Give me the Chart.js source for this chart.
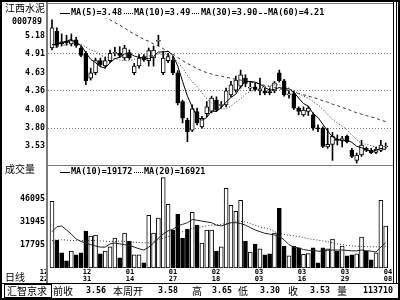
<!DOCTYPE html>
<html><head><meta charset="utf-8">
<script src="https://cdn.jsdelivr.net/npm/chart.js@4.4.0/dist/chart.umd.min.js"></script>
<style>
html,body{margin:0;padding:0;background:#fff;}
#wrap{position:relative;width:400px;height:300px;overflow:hidden;background:#fff;}
canvas{position:absolute;left:0;top:0;}
</style></head><body>
<div id="wrap"><canvas id="pc" width="400" height="300"></canvas><canvas id="vc" width="400" height="300"></canvas></div>
<script>
// ---------- data ----------
const stockName = '江西水泥';
const stockCode = '000789';
const openP  = [5.00,5.25,5.09,5.10,5.06,5.12,5.00,4.92,4.55,4.63,4.81,4.73,4.81,4.92,4.92,4.85,4.93,4.63,4.73,4.87,4.81,4.85,5.10,4.63,4.81,4.82,4.63,4.20,3.92,3.77,4.05,3.82,4.02,4.05,4.22,4.14,4.15,4.30,4.37,4.43,4.55,4.40,4.42,4.36,4.36,4.35,4.36,4.63,4.51,4.30,4.32,4.10,4.00,4.05,4.00,3.80,3.80,3.52,3.56,3.63,3.63,3.68,3.47,3.32,3.40,3.50,3.47,3.44,3.47,3.52];
const highP  = [5.42,5.30,5.21,5.19,5.21,5.16,5.03,4.95,4.70,4.85,4.85,4.86,4.97,5.01,5.02,5.04,4.97,4.77,4.90,4.90,5.00,5.03,5.19,4.95,4.92,4.87,4.66,4.22,3.95,4.15,4.10,3.98,4.20,4.28,4.27,4.20,4.40,4.50,4.58,4.67,4.60,4.50,4.48,4.55,4.40,4.40,4.50,4.67,4.53,4.36,4.35,4.12,4.12,4.13,4.03,3.85,3.82,3.80,3.74,3.70,3.68,3.70,3.50,3.43,3.62,3.52,3.50,3.52,3.62,3.58];
const lowP   = [4.97,5.01,5.03,5.04,5.03,5.01,4.87,4.45,4.52,4.60,4.72,4.70,4.78,4.88,4.86,4.82,4.83,4.60,4.70,4.80,4.73,4.73,5.03,4.60,4.78,4.60,4.15,3.88,3.60,3.75,3.85,3.80,3.97,4.03,4.05,4.10,4.12,4.27,4.34,4.40,4.42,4.36,4.36,4.30,4.30,4.30,4.33,4.49,4.28,4.25,4.08,4.00,3.98,3.99,3.77,3.75,3.51,3.50,3.32,3.55,3.52,3.58,3.36,3.28,3.38,3.45,3.42,3.42,3.45,3.50];
const closeP = [5.30,5.04,5.06,5.08,5.11,5.04,4.89,4.51,4.63,4.81,4.75,4.81,4.92,4.93,4.89,5.00,4.85,4.73,4.85,4.82,4.96,4.97,5.11,4.85,4.87,4.63,4.18,3.95,3.75,4.09,3.88,3.95,4.12,4.25,4.07,4.15,4.36,4.45,4.52,4.60,4.47,4.41,4.38,4.39,4.33,4.33,4.48,4.51,4.30,4.31,4.10,4.05,4.07,4.10,3.80,3.79,3.53,3.56,3.68,3.62,3.64,3.60,3.38,3.40,3.55,3.47,3.43,3.49,3.55,3.53];
const volume = [44600,20800,12900,8000,14100,11700,12900,26300,23300,23900,12300,14100,16600,22100,9900,25100,20200,11700,11700,6800,36100,25100,34300,59300,42800,26900,36700,22100,27600,37900,30000,19000,26900,26900,14100,16600,52600,42200,38500,45200,20200,13500,18400,15400,11700,12300,25100,40400,17200,11100,17200,16000,12000,12500,16000,6800,16000,15400,21500,14100,17200,11100,11700,12300,22700,14100,8600,12900,45200,29400];
const ma5  = [5.05,5.05,5.08,5.10,5.13,5.07,5.04,4.93,4.83,4.78,4.72,4.70,4.78,4.84,4.86,4.91,4.92,4.88,4.86,4.85,4.84,4.87,4.94,4.94,4.95,4.89,4.73,4.50,4.28,4.12,3.97,3.92,3.96,4.06,4.05,4.11,4.19,4.26,4.31,4.42,4.50,4.50,4.49,4.46,4.41,4.37,4.38,4.41,4.39,4.39,4.34,4.25,4.17,4.13,4.02,3.96,3.86,3.76,3.67,3.64,3.61,3.62,3.59,3.53,3.51,3.48,3.45,3.47,3.50,3.48];
const ma10 = [5.00,5.02,5.03,5.05,5.07,5.07,5.06,5.01,4.97,4.95,4.89,4.87,4.85,4.84,4.82,4.81,4.81,4.83,4.85,4.86,4.88,4.89,4.91,4.90,4.90,4.87,4.79,4.70,4.59,4.50,4.42,4.33,4.24,4.18,4.12,4.09,4.09,4.13,4.19,4.24,4.31,4.35,4.38,4.39,4.42,4.44,4.45,4.45,4.43,4.40,4.36,4.32,4.28,4.25,4.20,4.15,4.08,4.01,3.93,3.88,3.83,3.78,3.70,3.63,3.57,3.56,3.54,3.52,3.51,3.49];
const ma30 = [5.90,5.88,5.85,5.82,5.78,5.74,5.70,5.65,5.60,5.55,5.50,5.46,5.42,5.38,5.34,5.30,5.25,5.21,5.17,5.13,5.10,5.06,5.03,4.99,4.95,4.91,4.86,4.81,4.77,4.73,4.69,4.66,4.63,4.61,4.59,4.58,4.56,4.55,4.53,4.52,4.51,4.49,4.48,4.46,4.44,4.42,4.41,4.39,4.38,4.36,4.34,4.32,4.30,4.28,4.26,4.24,4.21,4.19,4.16,4.14,4.11,4.09,4.06,4.03,4.01,3.99,3.97,3.95,3.92,3.90];
const volMa10 = [26000,29000,29500,27000,24500,21500,20000,19000,18000,17200,16500,16500,18500,19000,18500,18000,17500,16500,15500,14700,16500,19000,22000,24500,26500,27500,29500,30500,31500,33500,33000,32500,32000,31500,30000,29500,30500,31500,31500,31000,30000,28500,27000,26000,25000,24500,24000,23000,21000,18000,16500,16000,15000,14500,14500,14000,14000,14500,14700,14700,14700,14500,14200,14200,14700,14300,14000,13500,16500,19172];
const volMa20 = [20500,20800,21000,20800,20600,20500,20500,20600,20600,20500,20300,20200,20000,20000,20200,20000,19800,19500,19300,19000,19200,20000,21000,22000,23000,24000,25000,26000,27000,28000,28500,29000,29500,30000,30200,30500,31000,31500,32000,32300,32000,31000,30000,29000,28200,27500,26000,25000,24300,23800,23400,23000,22300,21700,21200,20800,20300,19800,19200,18500,18000,17600,17300,17000,16900,16800,16700,16600,16800,16921];
const priceTicks = [5.18,4.91,4.63,4.36,4.08,3.80,3.53];
const priceGridTicks = [4.91,4.36,3.80];
const volTicks = [46095,31945,17795];
const dateLabels = [['12','22'],['12','31'],['01','14'],['01','27'],['02','18'],['03','03'],['03','16'],['03','29'],['04','08']];
const maLegend = ['MA(5)=3.48','MA(10)=3.49','MA(30)=3.90','MA(60)=4.21'];
const volLegend = ['MA(10)=19172','MA(20)=16921'];
const infoLabels = ['前收','本周开','高','低','收','量'];
const infoValues = ['3.56','3.58','3.65','3.30','3.53','113710'];
const brand = '汇智京求';
const panelLabel = '成交量';
const periodLabel = '日线';

// ---------- layout ----------
const X_MIN = -0.827, X_MAX = 70.51;     // plot spans x 48..393
const P_MAX = 5.448, P_MIN = 3.251;      // plot spans y 18..165
const V_MIN = 3645, V_MAX = 66380;       // plot spans y 166..268
const NUMF = {family:'DejaVu Sans Mono', size:8.3, weight:'bold'};
const idx = closeP.map((_, i) => i);
const up = idx.map(i => closeP[i] >= openP[i]);
const pts = arr => arr.map((v, i) => ({x: i, y: v}));

Chart.defaults.font.family = 'DejaVu Sans Mono';
const common = {responsive:false, animation:false, events:[], devicePixelRatio:1,
  plugins:{legend:{display:false}, tooltip:{enabled:false}}};

new Chart(document.getElementById('pc'), {
  type:'bar',
  data:{datasets:[
    {type:'line', data:pts(ma5), borderColor:'#000', borderWidth:1, pointRadius:0, order:0},
    {type:'line', data:pts(ma10), borderColor:'#333', borderWidth:1, borderDash:[1,2], pointRadius:0, order:0},
    {type:'line', data:pts(ma30), borderColor:'#333', borderWidth:1, borderDash:[3,3], pointRadius:0, order:0},
    {type:'bar', data:idx.map(i => ({x:i, y:[Math.min(openP[i], closeP[i]), Math.max(openP[i], closeP[i])]})),
      backgroundColor:idx.map(i => up[i] ? '#fff' : '#000'), borderColor:'#000', borderWidth:1,
      borderSkipped:false, barThickness:4, maxBarThickness:4, grouped:false, minBarLength:1, order:1},
    {type:'bar', data:idx.map(i => ({x:i, y:[lowP[i], highP[i]]})),
      backgroundColor:'#000', borderWidth:0, barThickness:1, maxBarThickness:1, grouped:false, order:2}
  ]},
  options:Object.assign({}, common, {
    layout:{padding:{top:18, bottom:135, left:0, right:7}},
    scales:{
      x:{type:'linear', min:X_MIN, max:X_MAX, display:false, offset:false},
      y:{min:P_MIN, max:P_MAX, afterFit(s){s.width = 48;},
        afterBuildTicks(s){s.ticks = priceTicks.map(v => ({value:v}));},
        ticks:{font:NUMF, color:'#000', padding:3, callback:v => v.toFixed(2)},
        grid:{drawTicks:false, lineWidth:1,
          color:c => (c.tick && priceGridTicks.includes(c.tick.value)) ? '#777' : 'rgba(0,0,0,0)'},
        border:{display:false, dash:[1,2]}}
    }
  })
});

const deco = {
  id:'deco',
  afterDraw(chart){
    const c = chart.ctx;
    c.save();
    // frame
    c.fillStyle = '#000';
    c.fillRect(0,0,400,2); c.fillRect(0,298,400,2); c.fillRect(0,0,2,300); c.fillRect(398,0,2,300);
    c.fillRect(2,283,396,1);
    c.fillStyle = '#7a7a7a';
    c.fillRect(46,2,2,281);
    c.fillRect(48,3,346,1);
    c.fillRect(48,165,346,1);
    c.fillStyle = '#000';
    c.fillRect(393,2,1,281);
    c.fillRect(396,2,1,281);
    // names
    c.textBaseline = 'middle';
    c.fillStyle = '#000';
    c.font = '10px "Noto Sans CJK SC"';
    c.fillText(stockName, 5, 8.5);
    c.fillText(panelLabel, 5, 169);
    c.fillText(periodLabel, 5, 277);
    c.font = 'bold 8.3px "DejaVu Sans Mono"';
    c.fillText(stockCode, 12, 22);
    // price legend
    const ly = 13;
    c.font = 'bold 8.5px "DejaVu Sans Mono"';
    c.fillRect(60, ly, 10, 1);
    c.fillText(maLegend[0], 71, ly);
    for (let x = 124; x < 133; x += 2) c.fillRect(x, ly, 1, 1);
    c.fillText(maLegend[1], 134, ly);
    for (let x = 192; x < 200; x += 2) c.fillRect(x, ly, 1, 1);
    c.fillText(maLegend[2], 201, ly);
    c.fillRect(259, ly, 3, 1); c.fillRect(264, ly, 3, 1);
    c.fillText(maLegend[3], 268, ly);
    // volume legend
    const vy = 172;
    c.fillRect(60, vy, 10, 1);
    c.fillText(volLegend[0], 71, vy);
    for (let x = 134; x < 144; x += 2) c.fillRect(x, vy, 1, 1);
    c.fillText(volLegend[1], 144, vy);
    // info bar
    c.lineWidth = 1; c.strokeStyle = '#000';
    c.strokeRect(4.5, 284.5, 47, 13);
    c.font = '10px "Noto Sans CJK SC"';
    c.fillText(brand, 7, 291);
    const lx = [53, 113, 192, 238, 288, 337];
    const rx = [106, 178, 232, 280, 330, 393];
    infoLabels.forEach((t, k) => { c.font = '10px "Noto Sans CJK SC"'; c.textAlign = 'left'; c.fillText(t, lx[k], 291); });
    c.font = 'bold 8.3px "DejaVu Sans Mono"'; c.textAlign = 'right';
    infoValues.forEach((t, k) => c.fillText(t, rx[k], 291));
    c.restore();
  }
};

new Chart(document.getElementById('vc'), {
  type:'bar',
  data:{datasets:[
    {type:'line', data:pts(volMa10), borderColor:'#222', borderWidth:1, pointRadius:0, order:0},
    {type:'line', data:pts(volMa20), borderColor:'#333', borderWidth:1, borderDash:[1,2], pointRadius:0, order:0},
    {type:'bar', data:idx.map(i => ({x:i, y:volume[i]})),
      backgroundColor:idx.map(i => up[i] ? '#fff' : '#000'), borderColor:'#000', borderWidth:1,
      borderSkipped:false, barThickness:4, maxBarThickness:4, grouped:false, base:V_MIN, order:1}
  ]},
  options:Object.assign({}, common, {
    layout:{padding:{top:166, bottom:17, left:0, right:7}},
    scales:{
      x:{type:'linear', min:X_MIN, max:X_MAX, offset:false, afterFit(s){s.height = 15;},
        afterBuildTicks(s){const upp = (X_MAX - X_MIN) / 345; s.ticks = dateLabels.map((_, k) => ({value: X_MIN + (44 - 48 + 43 * k) * upp}));},
        ticks:{autoSkip:false, maxRotation:0, minRotation:0, padding:1, color:'#000',
          font:{family:'DejaVu Sans Mono', size:7, weight:'bold', lineHeight:0.95},
          callback:(v, i) => dateLabels[i]},
        grid:{display:false, drawTicks:false}, border:{display:false}},
      y:{min:V_MIN, max:V_MAX, afterFit(s){s.width = 48;},
        afterBuildTicks(s){s.ticks = volTicks.map(v => ({value:v}));},
        ticks:{font:NUMF, color:'#000', padding:3, callback:v => String(v)},
        grid:{display:false, drawTicks:false}, border:{display:false}}
    }
  }),
  plugins:[deco]
});
</script>
</body></html>
